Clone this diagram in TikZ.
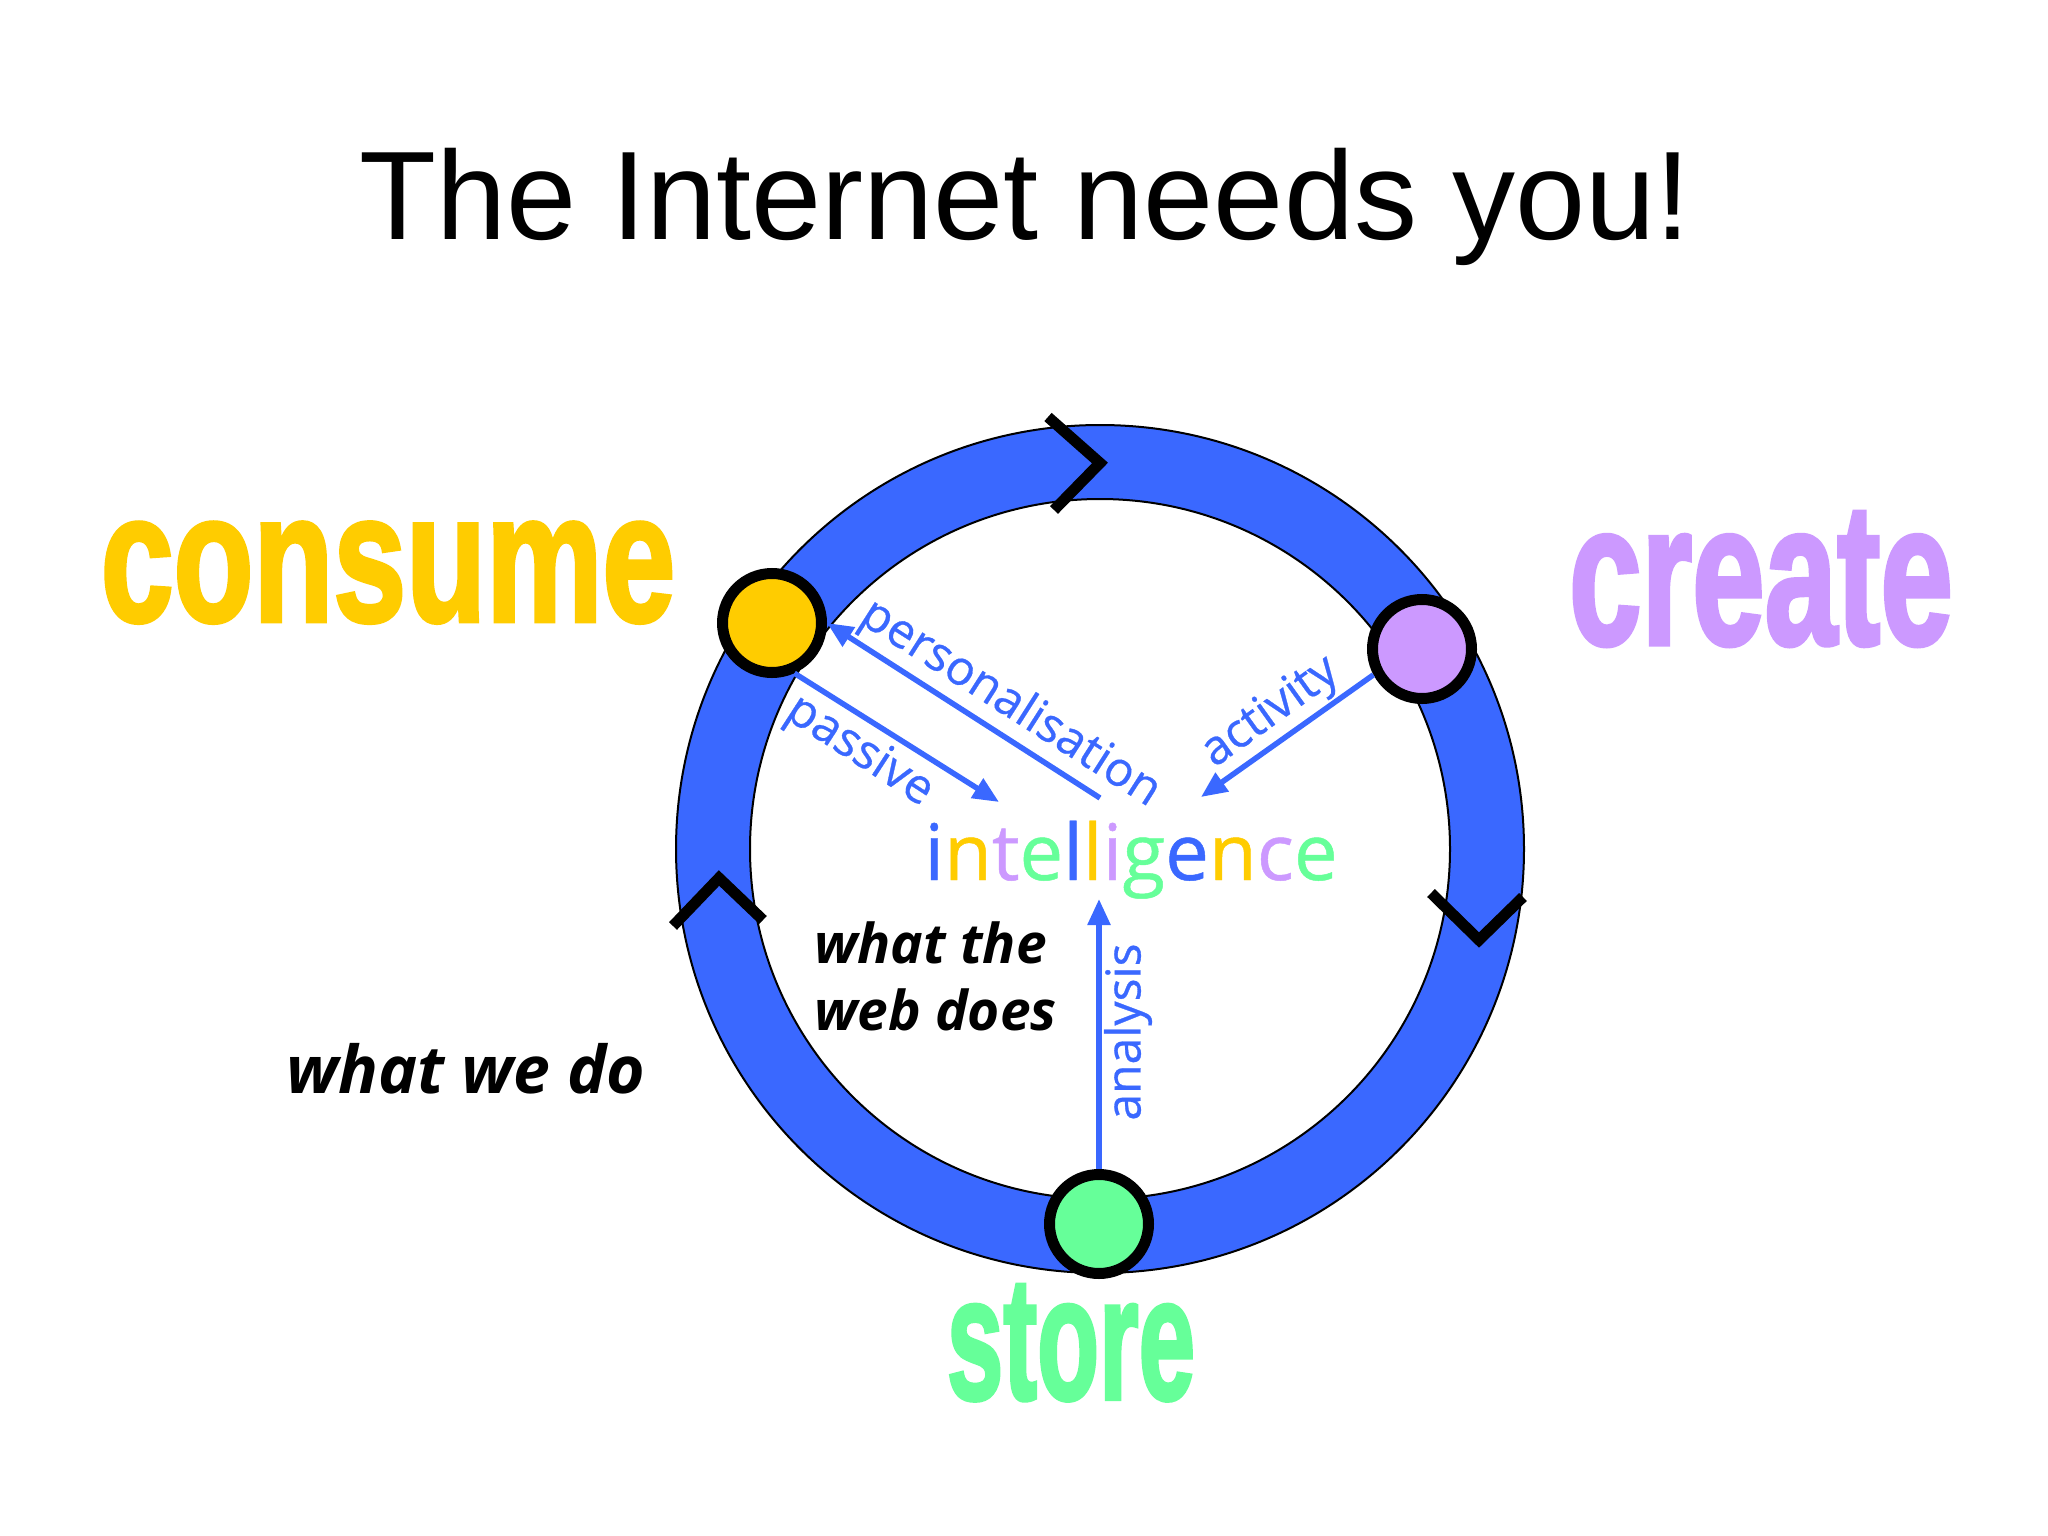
\documentclass[tikz,border=0pt]{standalone}
\usepackage{fontspec}
\setmainfont{Liberation Sans}
\newfontfamily\comicfont{Open Sans}
\newfontfamily\labelfont{Open Sans}[FakeBold=0.6]
\newfontfamily\heavyfont{Liberation Sans Bold}[FakeBold=2.5]
\usetikzlibrary{arrows.meta}
\definecolor{ringblue}{HTML}{3A68FF}
\definecolor{arrowblue}{HTML}{3A68FF}
\definecolor{cyellow}{HTML}{FFCC00}
\definecolor{cpurple}{HTML}{CC99FF}
\definecolor{cgreen}{HTML}{66FF99}
\begin{document}
\begin{tikzpicture}[x=1pt,y=-1pt,
  ring/.style={fill=ringblue, draw=black, line width=2pt, even odd rule},
  chev/.style={draw=black, line width=11pt, line join=miter},
  hub/.style={circle, draw=black, line width=11pt, minimum size=99pt, inner sep=0pt},
  flow/.style={draw=arrowblue, line width=5.5pt, -{Triangle[length=26pt,width=22pt]}},
  flowlabel/.style={text=arrowblue, font=\labelfont\fontsize{48}{50}\selectfont, inner sep=0pt},
  handnote/.style={anchor=base west, inner sep=0pt, text=black},
  bigword/.style={anchor=base, inner sep=0pt}
]
\useasboundingbox (0,0) rectangle (2048,1536);
\fill[white] (0,0) rectangle (2048,1536);

% title
\node[anchor=base, inner sep=0pt, font=\fontsize{126}{130}\selectfont] (title) at (1025,239) {The Internet needs you!};

% ring
\path[ring] (1100,849) circle[radius=424pt] (1100,849) circle[radius=350pt];

% chevrons
\draw[chev] (1048,417) -- (1100,463) -- (1054,510);
\draw[chev] (673,926) -- (719,878) -- (763,920);
\draw[chev] (1431,893) -- (1479,940) -- (1523,897);

% hubs
\node[hub, fill=cyellow] (consume) at (772,623) {};
\node[hub, fill=cpurple] (create) at (1422,649) {};
\node[hub, fill=cgreen] (store) at (1099,1224) {};

% big words
\node[bigword, text=cyellow, font=\heavyfont\fontsize{183}{190}\selectfont] (consumeword) at (388,621) {\scalebox{0.715}[1]{consume}};
\node[bigword, text=cpurple, font=\heavyfont\fontsize{202}{210}\selectfont] (createword) at (1761,644) {\scalebox{0.645}[1]{create}};
\node[bigword, text=cgreen, font=\heavyfont\fontsize{175}{180}\selectfont] (storeword) at (1071,1399) {\scalebox{0.58}[1]{store}};

% intelligence
\node[anchor=base, inner sep=0pt, font=\labelfont\fontsize{78}{80}\selectfont] (intel) at (1131,880)
 {\textcolor{ringblue}{i}\textcolor{cyellow}{n}\textcolor{cpurple}{t}\textcolor{cgreen}{e}\textcolor{ringblue}{l}\textcolor{cyellow}{l}\textcolor{cpurple}{i}\textcolor{cgreen}{g}\textcolor{ringblue}{e}\textcolor{cyellow}{n}\textcolor{cpurple}{c}\textcolor{cgreen}{e}};

% arrow end points
\coordinate (pStart) at (1100,798);
\coordinate (passiveEnd) at (999,802);
\coordinate (activityEnd) at (1201,797);
\coordinate (analysisEnd) at (1099,899);

% connectors
\draw[flow] (pStart) -- (consume.east);
\draw[flow] (consume.-66) -- (passiveEnd);
\draw[flow] (create.208) -- (activityEnd);
\draw[flow] (store.north) -- (analysisEnd);

% connector labels
\node[flowlabel, rotate=-32.5] (lpers) at (1010,704) {personalisation};
\node[flowlabel, rotate=-33] (lpass) at (859,752) {passive};
\node[flowlabel, rotate=35.6] (lact) at (1271,713) {activity};
\node[flowlabel, rotate=90] (lana) at (1128,1032) {analysis};

% notes
\node[handnote, font=\comicfont\bfseries\itshape\fontsize{55}{60}\selectfont] (web1) at (814,963) {what the};
\node[handnote, font=\comicfont\bfseries\itshape\fontsize{55}{60}\selectfont] (web2) at (814,1030) {web does};
\node[handnote, font=\comicfont\bfseries\itshape\fontsize{66}{70}\selectfont] (wedo) at (286,1093) {what we do};
\end{tikzpicture}
\end{document}
